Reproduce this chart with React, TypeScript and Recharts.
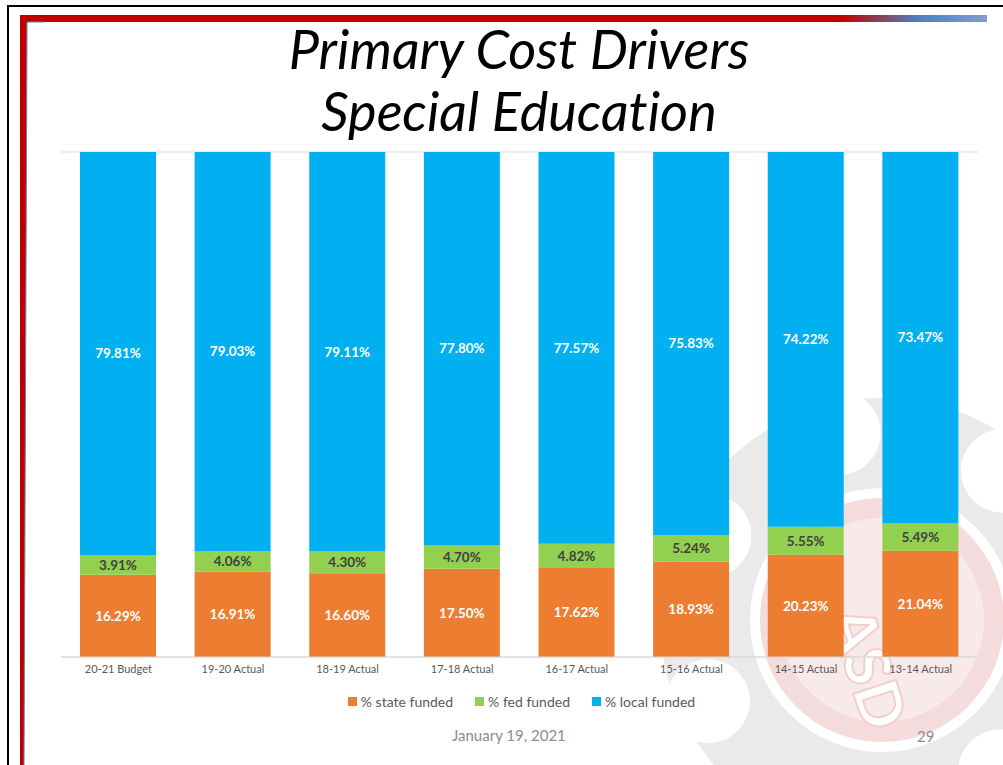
import { BarChart, Bar, XAxis, YAxis, CartesianGrid, Legend, LabelList } from 'recharts'

const categories = ['20-21 Budget', '19-20 Actual', '18-19 Actual', '17-18 Actual', '16-17 Actual', '15-16 Actual', '14-15 Actual', '13-14 Actual']
const stateFunded = [16.29, 16.91, 16.6, 17.5, 17.62, 18.93, 20.23, 21.04]
const fedFunded = [3.91, 4.06, 4.3, 4.7, 4.82, 5.24, 5.55, 5.49]
const localFunded = [79.81, 79.03, 79.11, 77.8, 77.57, 75.83, 74.22, 73.47]
const yTicks = [0, 10, 20, 30, 40, 50, 60, 70, 80, 90, 100]

const seriesNames = ['% state funded', '% fed funded', '% local funded']
const colors = ['#ED7D31', '#92D050', '#00B0F0']

const FONT = 'Lato, "Open Sans", sans-serif'

const data = categories.map((name, i) => ({
  name,
  state: stateFunded[i],
  fed: fedFunded[i],
  local: localFunded[i],
}))

const fmt = (v: any) => `${Number(v).toFixed(2)}%`

function LegendContent() {
  return (
    <div style={{ display: 'flex', justifyContent: 'center', gap: 22, fontFamily: FONT, fontSize: 14, color: '#595959' }}>
      {seriesNames.map((n, i) => (
        <span key={n} style={{ display: 'flex', alignItems: 'center' }}>
          <span style={{ width: 9, height: 9, background: colors[i], marginRight: 4, display: 'inline-block' }} />
          {n}
        </span>
      ))}
    </div>
  )
}

// faint school logo behind the chart
function Watermark() {
  const cx = 882
  const cy = 620
  const notchAngles = [-51, 0, 52, 103, 155, 206, 257]
  return (
    <svg width={1003} height={765} style={{ position: 'absolute', left: 0, top: 0 }}>
      <circle cx={cx} cy={cy} r={222} fill="#eaeaea" />
      {notchAngles.map((deg) => {
        const a = (deg * Math.PI) / 180
        return <circle key={deg} cx={cx + Math.cos(a) * 192} cy={cy + Math.sin(a) * 192} r={42} fill="#fff" />
      })}
      <circle cx={cx} cy={cy} r={132} fill="#fff" />
      <circle cx={cx} cy={cy} r={122} fill="#f5dcdc" />
      <circle cx={cx} cy={cy} r={102} fill="#f9eaea" />
      <text x={868} y={668} transform="rotate(72 868 668)" textAnchor="middle" fontFamily={FONT} fontWeight={900}
        fontSize={62} fill="#fff" stroke="#f0cfcf" strokeWidth={2} dy={22}>ASD</text>
    </svg>
  )
}

function Frame() {
  return (
    <svg width={1003} height={765} style={{ position: 'absolute', left: 0, top: 0, pointerEvents: 'none' }}>
      <defs>
        <linearGradient id="topStripe" x1="0" x2="1" y1="0" y2="0">
          <stop offset="0.85" stopColor="#c00000" />
          <stop offset="0.93" stopColor="#4f81bd" />
          <stop offset="1" stopColor="#7f9fc8" />
        </linearGradient>
      </defs>
      <rect x={7} y={5} width={996} height={2} fill="#000" />
      <rect x={7} y={5} width={2} height={760} fill="#000" />
      <rect x={20} y={15} width={967} height={7} fill="url(#topStripe)" />
      <polygon points="20,15 27,15 24,765 20,765" fill="#c00000" />
      <line x1={27} y1={22} x2={24} y2={765} stroke="#5b87b5" strokeWidth={1} />
      <line x1={27} y1={22} x2={44} y2={22} stroke="#5b87b5" strokeWidth={1} />
    </svg>
  )
}

export default function App() {
  return (
    <div style={{ position: 'absolute', left: 0, top: 0, width: 1003, height: 765, background: '#fff', overflow: 'hidden' }}>
      <Watermark />
      <div style={{ position: 'absolute', left: 0, top: 18, width: 1038, textAlign: 'center', fontFamily: FONT, fontStyle: 'italic', fontSize: 54, lineHeight: '62px', color: '#000', fontVariantLigatures: 'none' }}>
        Primary Cost Drivers<br />Special Education
      </div>
      <div style={{ position: 'absolute', left: 0, top: 0 }}>
        <BarChart width={1003} height={765} data={data} margin={{ top: 152, right: 25, bottom: 78, left: 61 }} barSize={76}>
          <CartesianGrid vertical={false} stroke="#d9d9d9" />
          <YAxis width={0} domain={[0, 100]} ticks={yTicks} allowDataOverflow tick={false} axisLine={false} tickLine={false} />
          <XAxis dataKey="name" height={30} axisLine={{ stroke: '#d9d9d9' }} tickLine={false} interval={0}
            tick={{ fill: '#595959', fontSize: 11, fontFamily: FONT }} />
          <Legend layout="horizontal" verticalAlign="middle" align="center" content={<LegendContent />}
            wrapperStyle={{ position: 'absolute', top: 693, left: 20, width: 1003 }} />
          <Bar dataKey="state" name={seriesNames[0]} stackId="a" fill={colors[0]} isAnimationActive={false}>
            <LabelList dataKey="state" position="center" formatter={fmt} fill="#fff" fontSize={13.5} fontWeight="bold" fontFamily={FONT} />
          </Bar>
          <Bar dataKey="fed" name={seriesNames[1]} stackId="a" fill={colors[1]} isAnimationActive={false}>
            <LabelList dataKey="fed" position="center" formatter={fmt} fill="#404040" fontSize={13.5} fontWeight="bold" fontFamily={FONT} />
          </Bar>
          <Bar dataKey="local" name={seriesNames[2]} stackId="a" fill={colors[2]} isAnimationActive={false}>
            <LabelList dataKey="local" position="center" formatter={fmt} fill="#fff" fontSize={13.5} fontWeight="bold" fontFamily={FONT} />
          </Bar>
        </BarChart>
      </div>
      <div style={{ position: 'absolute', left: 452, top: 726, fontFamily: FONT, fontSize: 15, color: '#8c8c8c' }}>January 19, 2021</div>
      <div style={{ position: 'absolute', left: 917, top: 727, fontFamily: FONT, fontSize: 15, color: '#8c8c8c' }}>29</div>
      <Frame />
    </div>
  )
}
